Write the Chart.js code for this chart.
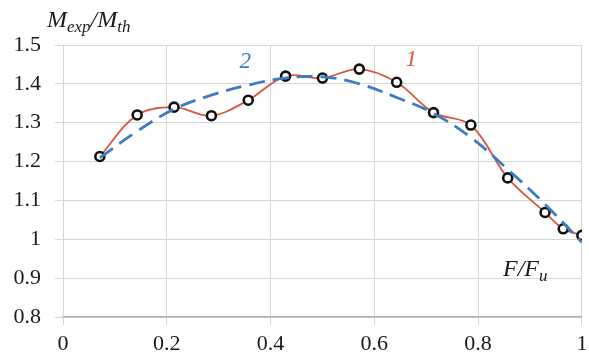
<!DOCTYPE html>
<html>
<head>
<meta charset="utf-8">
<script src="https://cdn.jsdelivr.net/npm/chart.js@4/dist/chart.umd.min.js"></script>
<style>
  html, body { margin: 0; padding: 0; background: #fff; }
  #box { width: 589px; height: 357px; }
</style>
</head>
<body>
<div id="box"><canvas id="momentChart"></canvas></div>
<script>
// experimental points (curve 1)
const expX = [0.071, 0.143, 0.214, 0.286, 0.357, 0.429, 0.5, 0.571, 0.643, 0.714, 0.786, 0.857, 0.929, 0.964, 1.0];
const expY = [1.213, 1.320, 1.340, 1.318, 1.358, 1.420, 1.415, 1.438, 1.404, 1.326, 1.294, 1.158, 1.069, 1.027, 1.010];

// approximation (curve 2, dashed)
const fitX = [0.071, 0.143, 0.214, 0.286, 0.357, 0.429, 0.5, 0.571, 0.643, 0.714, 0.786, 0.857, 0.929, 1.0];
const fitY = [1.210, 1.278, 1.335, 1.371, 1.397, 1.415, 1.418, 1.400, 1.365, 1.324, 1.262, 1.180, 1.090, 0.992];

const xTicks = [0, 0.2, 0.4, 0.6, 0.8, 1];
const yTicks = [0.8, 0.9, 1, 1.1, 1.2, 1.3, 1.4, 1.5];

const RED = "#d4593f";
const BLUE = "#3a7dc2";
const serif = "'Liberation Serif', 'DejaVu Serif', serif";

// axis titles and curve numbers
const labelsPlugin = {
  id: "labels",
  afterDraw(chart) {
    const ctx = chart.ctx;
    const x = chart.scales.x, y = chart.scales.y;
    ctx.save();
    ctx.textBaseline = "alphabetic";
    ctx.textAlign = "left";

    // M_exp / M_th
    let px = 47, py = 27;
    const parts = [["M", 24, 0], ["exp", 17, 5], ["/M", 24, 0], ["th", 17, 5]];
    parts.forEach(p => {
      ctx.font = "italic " + p[1] + "px " + serif;
      ctx.fillStyle = "#1a1a1a";
      ctx.fillText(p[0], px, py + p[2]);
      px += ctx.measureText(p[0]).width;
    });

    // F / F_u
    px = 503; py = 276;
    [["F/F", 24, 0], ["u", 17, 5]].forEach(p => {
      ctx.font = "italic " + p[1] + "px " + serif;
      ctx.fillStyle = "#1a1a1a";
      ctx.fillText(p[0], px, py + p[2]);
      px += ctx.measureText(p[0]).width;
    });

    ctx.font = "italic 23px " + serif;
    ctx.fillStyle = RED;
    ctx.fillText("1", x.getPixelForValue(0.66), y.getPixelForValue(1.445));
    ctx.fillStyle = BLUE;
    ctx.fillText("2", x.getPixelForValue(0.34), y.getPixelForValue(1.44));
    ctx.restore();
  }
};

new Chart(document.getElementById("momentChart"), {
  type: "line",
  data: {
    datasets: [
      {
        label: "2",
        data: fitX.map((v, i) => ({ x: v, y: fitY[i] })),
        borderColor: BLUE,
        borderWidth: 2.8,
        borderDash: [16, 8],
        pointRadius: 0,
        tension: 0.4,
        fill: false
      },
      {
        label: "1",
        data: expX.map((v, i) => ({ x: v, y: expY[i] })),
        borderColor: RED,
        borderWidth: 1.8,
        pointRadius: 4.5,
        pointBorderWidth: 2.6,
        pointBorderColor: "#111",
        pointBackgroundColor: "#fff",
        tension: 0.35,
        fill: false
      }
    ]
  },
  options: {
    responsive: true,
    maintainAspectRatio: false,
    animation: false,
    layout: { padding: { top: 45, right: 1, left: 0, bottom: 0 } },
    plugins: { legend: { display: false }, tooltip: { enabled: false } },
    scales: {
      x: {
        type: "linear",
        min: 0,
        max: 1,
        afterBuildTicks: s => { s.ticks = xTicks.map(v => ({ value: v })); },
        afterFit: s => { s.height = 40; s.paddingLeft = 0; s.paddingRight = 0; },
        grid: { color: "#d6d6d6", lineWidth: 1, tickLength: 8 },
        border: { color: "#b0b0b0", width: 1.5 },
        ticks: {
          color: "#1a1a1a",
          padding: 6,
          font: { family: serif, size: 22 },
          callback: v => String(+v.toFixed(1))
        }
      },
      y: {
        min: 0.8,
        max: 1.5,
        afterBuildTicks: s => { s.ticks = yTicks.map(v => ({ value: v })); },
        afterFit: s => { s.width = 63; s.paddingTop = 0; s.paddingBottom = 0; },
        grid: { color: "#d6d6d6", lineWidth: 1, tickLength: 8 },
        border: { color: "#d6d6d6", width: 1 },
        ticks: {
          color: "#1a1a1a",
          padding: 14,
          font: { family: serif, size: 22 },
          callback: v => String(+v.toFixed(1))
        }
      }
    }
  },
  plugins: [labelsPlugin]
});
</script>
</body>
</html>
